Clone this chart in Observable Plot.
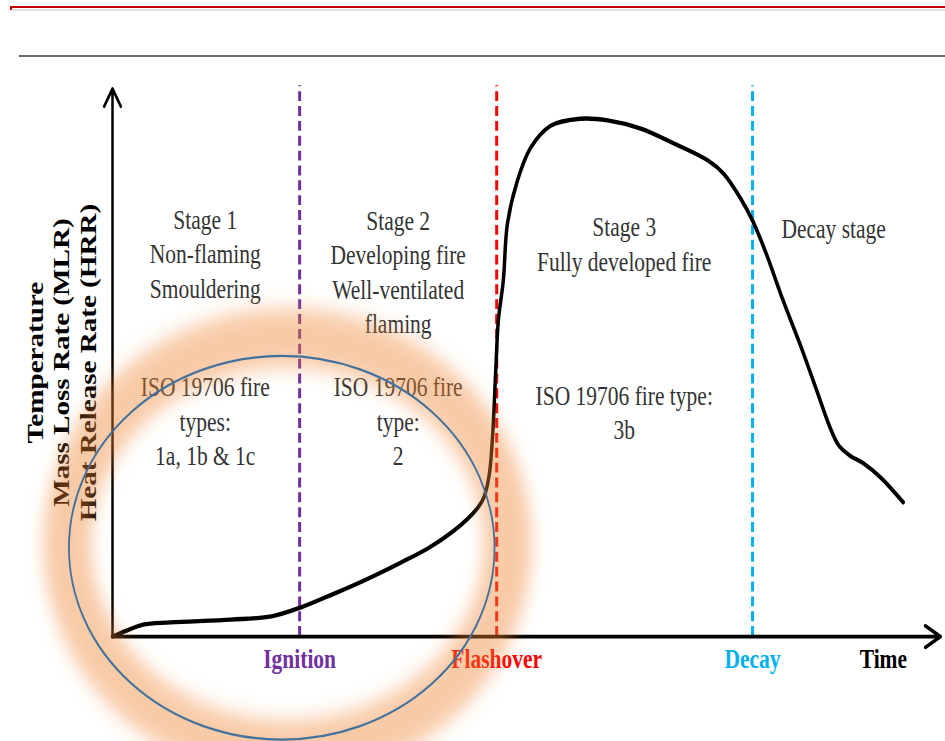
<!DOCTYPE html>
<html>
<head>
<meta charset="utf-8">
<script src="https://cdn.jsdelivr.net/npm/d3@7"></script>
<script src="https://cdn.jsdelivr.net/npm/@observablehq/plot@0.6"></script>
<style>
  html, body { margin: 0; padding: 0; background: #fff; }
  body { width: 945px; height: 741px; overflow: hidden; }
  #header { position: relative; height: 60px; }
  #redline { position: absolute; left: 10px; right: 0; top: 6px; height: 4px; box-sizing: border-box;
             border-top: 2px solid #c00000; border-left: 2px solid #c00000; }
  #shadow { position: absolute; left: 12px; right: 0; top: 9px; height: 2px; background: #e2e2e2; }
  #grayline { position: absolute; left: 19px; right: 0; top: 55px; height: 2px; background: #6b6b6b; }
  #chart svg { display: block; }
</style>
</head>
<body>
<div id="header"><div id="shadow"></div><div id="redline"></div><div id="grayline"></div></div>
<div id="chart"></div>
<script>
// ---------- data (time / value in arbitrary schematic units) ----------
const curveTime  = [0, 1.7, 3.7, 7.0, 14.3, 19.2, 22.7, 26.7, 29.6, 34.8, 38.2, 41.2, 42.9, 44.3, 44.9, 45.5, 45.9, 46.3, 46.6, 47.2, 47.7, 48.9, 50.5, 52.9, 56.5, 59.8, 63.8, 67.8, 71.9, 73.8, 75.8, 77.3, 78.9, 81.0, 83.1, 85.1, 86.7, 87.7, 89.1, 90.7, 92.8, 95.5];
const curveValue = [0, 1.1, 2.2, 2.6, 3.1, 3.7, 5.3, 7.8, 9.7, 13.5, 16.2, 19.3, 21.5, 23.9, 25.6, 29.5, 36.5, 49.1, 57.7, 65.0, 75.4, 83.2, 89.2, 93.2, 94.5, 94.2, 92.7, 90.0, 86.9, 84.5, 80.1, 75.9, 70.1, 61.3, 53.1, 44.7, 38.0, 34.9, 33.0, 31.6, 29.0, 24.5];

const eventNames  = ["Ignition", "Flashover", "Decay"];
const eventTimes  = [22.6, 46.4, 77.3];
const eventColors = ["#7030a0", "#ff0000", "#00b0f0"];

const stageLabels = [
  "Stage 1\nNon-flaming\nSmouldering",
  "Stage 2\nDeveloping fire\nWell-ventilated\nflaming",
  "Stage 3\nFully developed fire",
  "Decay stage"
];
const stageLabelX = [11.2, 34.5, 61.8, 87.1];
const stageLabelY = [78.9, 78.7, 77.5, 77.2];

const isoLabels = [
  "ISO 19706 fire\ntypes:\n1a, 1b & 1c",
  "ISO 19706 fire\ntype:\n2",
  "ISO 19706 fire type:\n3b"
];
const isoLabelX = [11.2, 34.5, 61.8];
const isoLabelY = [48.3, 48.3, 46.8];

const yLabels  = ["Temperature", "Mass Loss Rate (MLR)", "Heat Release Rate (HRR)"];
const yLabelX  = [-9.3, -6.2, -2.9];
const xLabel   = "Time";

// highlighted region (ellipse) in data units
const ringCenter = [20.5, 16.1], ringRadii = [25.7, 35.0];
const glowCenter = [21.2, 16.8], glowRadii = [26.6, 37.6];

// ---------- build ----------
const curve  = curveTime.map((t, i) => ({t, v: curveValue[i]}));
const events = eventNames.map((name, i) => ({name, t: eventTimes[i], color: eventColors[i]}));

const W = 945, H = 550, SVG_H = 681;
const serif = "'Liberation Serif', 'Times New Roman', Times, serif";

const plot = Plot.plot({
  width: W, height: H,
  marginLeft: 112, marginRight: 5, marginTop: 22.6, marginBottom: 84.8,
  x: {domain: [0, 100], axis: null},
  y: {domain: [0, 100], axis: null},
  color: {type: "identity"},
  style: {fontFamily: serif, background: "#fff"},
  marks: [
    Plot.ruleX(events, {x: "t", y1: 0, y2: 100.5, stroke: "color", strokeWidth: 3, strokeDasharray: "8,4"}),
    Plot.line(curve, {x: "t", y: "v", curve: "catmull-rom", stroke: "#000", strokeWidth: 3.5}),
    Plot.arrow([0], {x1: 0, y1: 0, x2: 0, y2: 100, stroke: "#000", strokeWidth: 2.5, headLength: 10}),
    Plot.arrow([0], {x1: 0, y1: 0, x2: 100, y2: 0, stroke: "#000", strokeWidth: 3, headLength: 8.7}),
    Plot.text(stageLabels, {x: (d, i) => stageLabelX[i], y: (d, i) => stageLabelY[i], text: d => d,
      lineAnchor: "top", lineHeight: 1.296, fontSize: 21.5, fill: "#333"}),
    Plot.text(isoLabels, {x: (d, i) => isoLabelX[i], y: (d, i) => isoLabelY[i], text: d => d,
      lineAnchor: "top", lineHeight: 1.296, fontSize: 21.5, fill: "#333"}),
    Plot.text(events, {x: "t", y: -4.1, text: "name", fill: "color", fontWeight: "bold", fontSize: 21.5}),
    Plot.text([xLabel], {x: 93.1, y: -4.1, text: d => d, fill: "#000", fontWeight: "bold", fontSize: 21.5}),
    Plot.text(yLabels, {x: (d, i) => yLabelX[i], y: 50, text: d => d, rotate: -90,
      fill: "#000", fontWeight: "bold", fontSize: 23.5})
  ]
});

// the reference figure is stretched vertically: reproduce by a non-uniform viewBox fit
plot.setAttribute("height", SVG_H);
plot.setAttribute("width", W);
plot.setAttribute("preserveAspectRatio", "none");
plot.style.width = W + "px";
plot.style.height = SVG_H + "px";
plot.style.maxWidth = "none";

const X = plot.scale("x"), Y = plot.scale("y");
function ell(c, r) {
  const cx = X.apply(c[0]), cy = Y.apply(c[1]);
  return {cx, cy, rx: X.apply(c[0] + r[0]) - cx, ry: cy - Y.apply(c[1] + r[1])};
}
const svg = d3.select(plot);
svg.append("defs").append("filter").attr("id", "glowblur")
  .attr("x", "-30%").attr("y", "-30%").attr("width", "160%").attr("height", "160%")
  .append("feGaussianBlur").attr("stdDeviation", 8);

const g = ell(glowCenter, glowRadii);
svg.append("ellipse")
  .attr("cx", g.cx).attr("cy", g.cy).attr("rx", g.rx).attr("ry", g.ry)
  .attr("fill", "none").attr("stroke", "#ee8330").attr("stroke-opacity", 0.42)
  .attr("stroke-width", 48).attr("filter", "url(#glowblur)");

const e = ell(ringCenter, ringRadii);
svg.append("ellipse")
  .attr("cx", e.cx).attr("cy", e.cy).attr("rx", e.rx).attr("ry", e.ry)
  .attr("fill", "none").attr("stroke", "#41719c").attr("stroke-width", 1.8);

document.getElementById("chart").appendChild(plot);
</script>
</body>
</html>
